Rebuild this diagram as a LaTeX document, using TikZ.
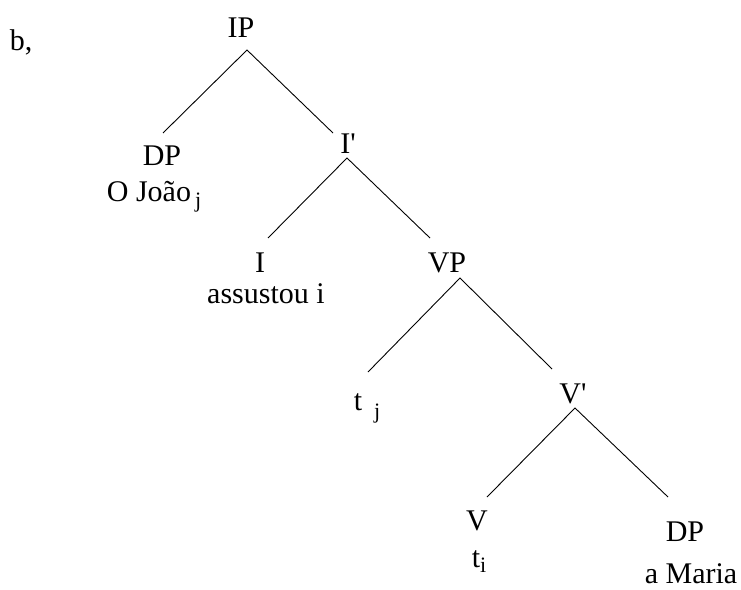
\documentclass[tikz,border=0pt]{standalone}
\usepackage{fontspec}
\setmainfont{Liberation Serif}
\begin{document}
\begin{tikzpicture}[x=1pt,y=-1pt,
  lbl/.style={anchor=base,inner sep=0pt,font=\fontsize{30}{30}\selectfont},
  branch/.style={line width=0.9pt,black}]
\useasboundingbox (0,0) rectangle (741,589);
\newcommand{\lowsub}[2]{\raisebox{-#1}{\fontsize{22}{22}\selectfont #2}}
% labels (center x, baseline y)
\node[lbl] (b) at (21,50) {b,};
\node[lbl] (IP) at (241,37) {IP};
\node[lbl] (DP1) at (162,165) {DP};
\node[lbl] (DP1w) at (154,201) {O João\hspace{4pt}\lowsub{6pt}{j}};
\node[lbl] (Ib) at (348,153) {I\textquotesingle};
\node[lbl] (I) at (260,272) {I};
\node[lbl] (Iw) at (266,303) {assustou i};
\node[lbl] (VP) at (447,272) {VP};
\node[lbl] (tj) at (367,410) {t\hspace{12pt}\lowsub{8pt}{j}};
\node[lbl] (Vb) at (573,403) {V\textquotesingle};
\node[lbl] (V) at (477,530) {V};
\node[lbl] (ti) at (479,567) {t\lowsub{5pt}{i}};
\node[lbl] (DP2) at (685,541) {DP};
\node[lbl] (DP2w) at (691,583) {a Maria};
% branch end points
\coordinate (IPa) at (247,50);
\coordinate (DP1t) at (163,133);
\coordinate (Ibt) at (333,133);
\coordinate (Iba) at (347,158);
\coordinate (It) at (268,238);
\coordinate (VPt) at (430,238);
\coordinate (VPa) at (460,278);
\coordinate (tjt) at (368,372);
\coordinate (Vbt) at (552,369);
\coordinate (Vba) at (575,408);
\coordinate (Vt) at (487,497);
\coordinate (DP2t) at (668,497);
\draw[branch] (DP1t) -- (IPa) -- (Ibt);
\draw[branch] (It) -- (Iba) -- (VPt);
\draw[branch] (tjt) -- (VPa) -- (Vbt);
\draw[branch] (Vt) -- (Vba) -- (DP2t);
\end{tikzpicture}
\end{document}
